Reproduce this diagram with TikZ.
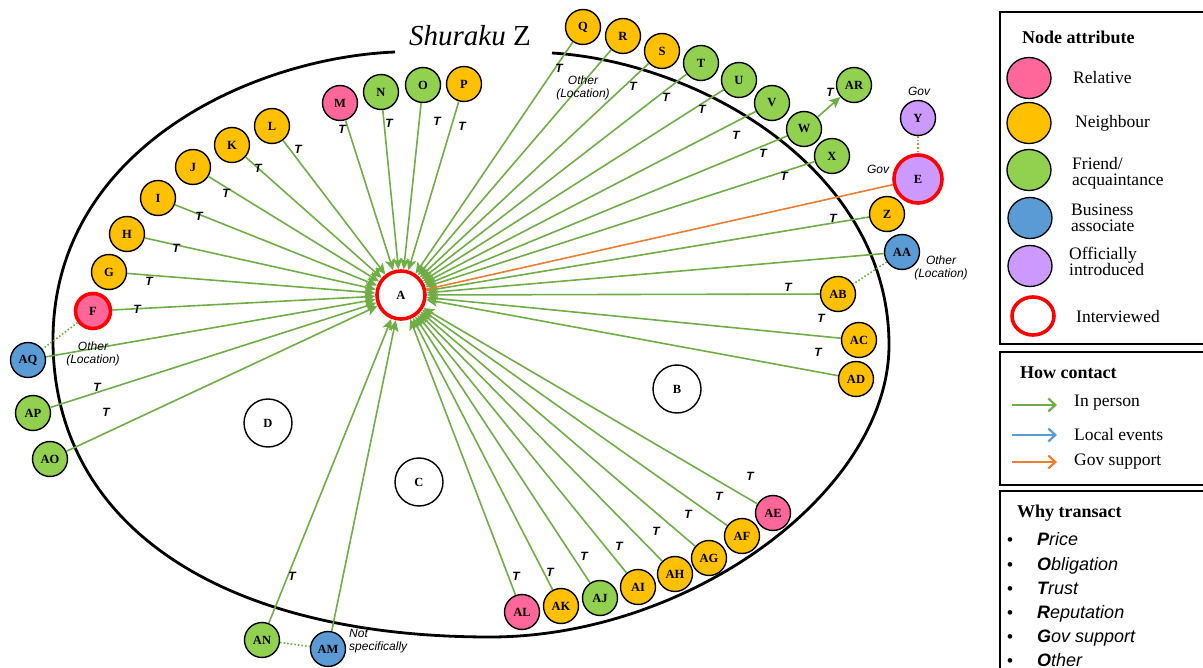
\documentclass[tikz,border=0pt]{standalone}
\usepackage{fontspec}
\setmainfont{Liberation Serif}
\newfontfamily\arialfont{Liberation Sans}
\usetikzlibrary{arrows.meta,shapes.geometric}

\definecolor{relc}{RGB}{255,102,153}
\definecolor{nbrc}{RGB}{255,192,0}
\definecolor{frdc}{RGB}{146,208,80}
\definecolor{busc}{RGB}{91,155,213}
\definecolor{offc}{RGB}{204,153,255}
\definecolor{ingreen}{RGB}{112,173,71}
\definecolor{govorange}{RGB}{237,125,49}

\tikzset{
  nd/.style={circle,draw,line width=1.4pt,minimum size=35pt,inner sep=0pt,
    font=\fontsize{12.5}{12.5}\selectfont\bfseries},
  rel/.style={fill=relc}, nbr/.style={fill=nbrc}, frd/.style={fill=frdc},
  bus/.style={fill=busc}, off/.style={fill=offc},
  intv/.style={draw=red,line width=3.6pt},
  big/.style={minimum size=48pt},
  inp/.style={draw=ingreen,line width=1.6pt,-{Stealth[length=11pt,width=10pt,inset=2.5pt]}},
  tie/.style={line width=1.6pt,dotted},
  tlab/.style={font=\arialfont\fontsize{12}{12}\selectfont\bfseries\itshape,inner sep=0pt},
  note/.style={font=\arialfont\fontsize{12}{13}\selectfont\itshape,align=center,inner sep=0pt},
  lgbox/.style={draw,line width=1.3pt},
  lgsym/.style={ellipse,draw,line width=1.3pt,minimum width=44pt,minimum height=41pt,inner sep=0pt},
  lgtext/.style={font=\fontsize{17.5}{16}\selectfont,anchor=west,align=left,inner sep=0pt},
  lgtitle/.style={font=\fontsize{18}{18}\selectfont\bfseries,anchor=west,inner sep=0pt},
  lgitem/.style={font=\arialfont\fontsize{18}{18}\selectfont\itshape,anchor=base west,inner sep=0pt},
  lgarrow/.style={line width=2.2pt,-{Straight Barb[length=7pt,width=13pt]}}
}

\begin{document}
\begin{tikzpicture}[x=1pt,y=-1pt]
\useasboundingbox (0,0) rectangle (1203,668);

% shuraku boundary
\draw[line width=2.8pt] (552,53) .. controls (700,62) and (889,170) .. (889,345)
  .. controls (889,491) and (690,637) .. (490,637)
  .. controls (219,637) and (53,524) .. (53,340)
  .. controls (53,150) and (250,58) .. (395,52);
\node[font=\fontsize{29}{30}\selectfont,anchor=base,inner sep=0pt] (title) at (470,46) {\textit{Shuraku} Z};

% interviewed and sub-areas
\node[nd,big,intv,fill=white] (A) at (401,295) {A};
\foreach \n/\x/\y in {B/677/389,C/419/482,D/268/423}
  \node[nd,big,fill=white] (\n) at (\x,\y) {\n};
\node[nd,rel,intv] (F) at (93,311) {F};
\node[nd,big,off,intv] (E) at (918,179) {E};

\foreach \n/\x/\y/\s in {M/340/103/rel,N/381/92/frd,O/423/85/frd,P/464/84/nbr,
    L/272/126/nbr,K/232/145/nbr,J/193/167/nbr,I/158/198/nbr,H/127/234/nbr,G/109/272/nbr,
    Q/583/27/nbr,R/623/36/nbr,S/662/51/nbr,T/701/63/frd,U/739/80/frd,V/772/103/frd,
    W/804/129/frd,X/832/156/frd,AR/854/85/frd,Y/918/118/off,Z/887/214/nbr,AA/902/252/bus,
    AB/838/294/nbr,AC/859/340/nbr,AD/856/379/nbr,AE/773/513/rel,AF/742/536/nbr,
    AG/709/558/nbr,AH/675/574/nbr,AI/638/587/nbr,AJ/600/598/frd,AK/561/606/nbr,
    AL/522/612/rel,AM/328/649/bus,AN/262/640/frd,AO/50/459/frd,AP/33/413/frd,AQ/28/360/bus}
  \node[nd,\s] (\n) at (\x,\y) {\n};

% contacts
\foreach \n in {F,G,H,I,J,K,L,M,N,O,P,Q,R,S,T,U,V,W,X,Z,AA,AB,AC,AD,AE,AF,AG,AH,AI,AJ,AK,AL,AM,AN,AO,AP,AQ}
  \draw[inp] (\n) -- (A);
\draw[inp] (W) -- (AR);
\draw[govorange,line width=1.6pt] (E) -- (A);
\draw[tie,govorange] (Y) -- (E);
\draw[tie,ingreen] (F) -- (AQ);
\draw[tie,ingreen] (AA) -- (AB);
\draw[tie,ingreen] (AN) -- (AM);

% why transact marks
\foreach \n/\x/\y in {M/342/129,N/389/123,O/437/121,P/462/126,L/298/149,K/258/168,J/226/193,
    I/199/216,H/176/248,G/149/281,F/137/309,Q/559/68,S/633/86,T/666/97,U/702/109,V/736/135,
    W/763/153,X/784/176,AR/830/92,Z/833/218,AB/788/287,AC/821/318,AD/818/352,AP/97/387,
    AO/106/412,AN/292/576,AE/750/476,AF/719/496,AG/688/514,AH/656/531,AI/619/546,
    AJ/584/556,AK/550/572,AL/516/576}
  \node[tlab] (t\n) at (\x,\y) {T};
\node[note] (oR) at (583,88) {Other\\(Location)};
\node[note] (oAA) at (941,268) {Other\\(Location)};
\node[note] (oAQ) at (93,354) {Other\\(Location)};
\node[note] (gY) at (919,91) {Gov};
\node[note] (gE) at (878,169) {Gov};
\node[note,align=left,anchor=west] (nAM) at (349,641) {Not\\specifically};

% legend: node attribute
\draw[lgbox] (1000,12) rectangle (1210,344);
\node[lgtitle] (kTitle) at (1022,37) {Node attribute};
\node[lgsym,rel] (kRel) at (1029,78) {};
\node[lgsym,nbr] (kNbr) at (1029,123) {};
\node[lgsym,frd] (kFrd) at (1029,170) {};
\node[lgsym,bus] (kBus) at (1030,218) {};
\node[lgsym,off] (kOff) at (1030,266) {};
\node[lgsym,draw=red,line width=3.6pt,minimum width=42pt,minimum height=38pt] (kInt) at (1033,316) {};
\node[lgtext] (lRel) at (1073,78) {Relative};
\node[lgtext] (lNbr) at (1075,123) {Neighbour};
\node[lgtext] (lFrd) at (1072,173) {Friend/\\acquaintance};
\node[lgtext] (lBus) at (1071,218) {Business\\associate};
\node[lgtext] (lOff) at (1069,261) {Officially\\introduced};
\node[lgtext] (lInt) at (1076,317) {Interviewed};

% legend: how contact
\draw[lgbox] (1000,352) rectangle (1210,485);
\node[lgtitle] (hTitle) at (1020,373) {How contact};
\path (1012,405) coordinate (inA) (1057,405) coordinate (inB)
      (1012,435) coordinate (evA) (1057,435) coordinate (evB)
      (1012,462) coordinate (gvA) (1057,462) coordinate (gvB);
\draw[lgarrow,ingreen] (inA) -- (inB);
\draw[lgarrow,busc] (evA) -- (evB);
\draw[lgarrow,govorange] (gvA) -- (gvB);
\node[lgtext] (lIn) at (1074,403) {In person};
\node[lgtext] (lEv) at (1074,435) {Local events};
\node[lgtext] (lGv) at (1074,462) {Gov support};

% legend: why transact
\draw[lgbox] (1000,491) rectangle (1210,680);
\node[lgtitle] (wTitle) at (1017,513) {Why transact};
\foreach \k/\y/\w in {1/545/{\textbf{P}rice},2/570/{\textbf{O}bligation},3/594/{\textbf{T}rust},
    4/618/{\textbf{R}eputation},5/642/{\textbf{G}ov support},6/666/{\textbf{O}ther}}{
  \node[lgitem,font=\arialfont\fontsize{17}{17}\selectfont] (b\k) at (1007,\y) {\textbullet};
  \node[lgitem] (w\k) at (1037,\y) {\w};
}
\end{tikzpicture}
\end{document}
